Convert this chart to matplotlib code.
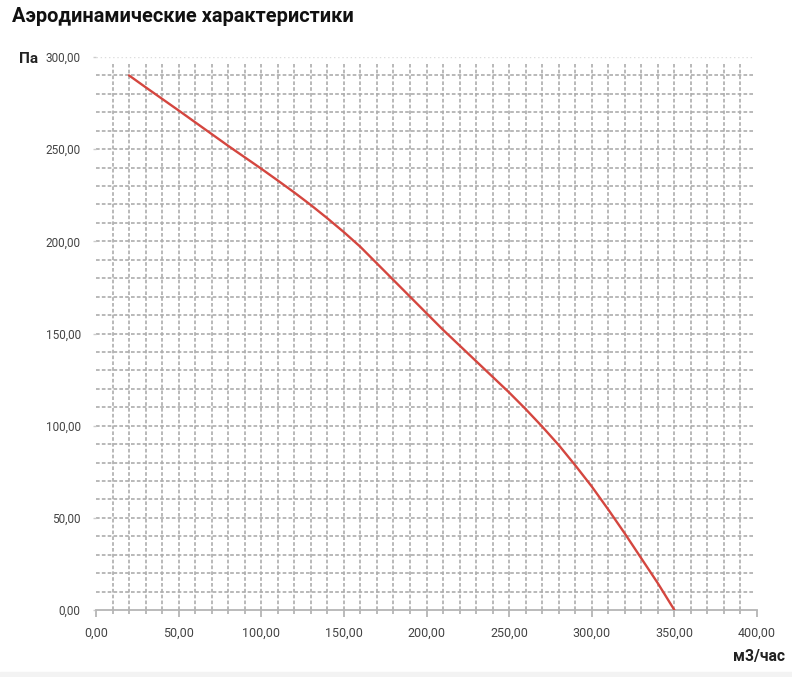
import matplotlib.pyplot as plt
import numpy as np
from matplotlib.patches import Rectangle

# flow, m3/h  vs  pressure, Pa
flow = [20, 30, 40, 50, 60, 70, 80, 90, 100, 110, 120, 130, 140, 150, 160, 170, 180,
        190, 200, 210, 220, 230, 240, 250, 260, 270, 280, 290, 300, 310, 320, 330, 340, 350]
pressure = [290, 283.6, 277.3, 271, 264.6, 258.2, 251.8, 245.6, 239.4, 233, 226.5, 219.7,
            212.5, 205, 197, 188, 179, 170, 161, 152, 143.5, 135, 126.5, 118, 109, 99.5,
            89.5, 78.5, 67, 54.5, 41.5, 28, 14.5, 0]

x_ticks = [0, 50, 100, 150, 200, 250, 300, 350, 400]
y_ticks = [0, 50, 100, 150, 200, 250, 300]

plt.rcParams['font.family'] = ['Roboto', 'DejaVu Sans']

fig = plt.figure(figsize=(7.92, 6.77), dpi=100)
ax = fig.add_axes([96 / 792, 67 / 677, 661 / 792, 553 / 677])

grid_color = '#adadad'
dash = (0, (2.2, 1.3))
# dashed grid every 10 units
ax.hlines(np.arange(10, 300, 10), 0, 398, colors=grid_color, linestyles=dash,
          linewidth=1.2, zorder=1)
ax.hlines([300], 0, 398, colors='#dddddd', linestyles=(0, (1, 2)), linewidth=1.0, zorder=1)
ax.vlines(np.arange(10, 400, 10), 0, 296, colors=grid_color, linestyles=dash,
          linewidth=1.2, zorder=1)

ax.plot(flow, pressure, color='#d4463f', linewidth=1.7, zorder=3, solid_capstyle='round',
        solid_joinstyle='round')

ax.set_xlim(0, 400)
ax.set_ylim(0, 300)
for side in ['top', 'right', 'left']:
    ax.spines[side].set_visible(False)
ax.spines['bottom'].set_color('#b5b5b5')
ax.spines['bottom'].set_linewidth(1.3)

ax.set_xticks(x_ticks)
ax.set_xticklabels([f'{v:.2f}'.replace('.', ',') for v in x_ticks])
ax.set_yticks(y_ticks)
ax.set_yticklabels([f'{v:.2f}'.replace('.', ',') for v in y_ticks])
ax.set_xticks(np.arange(10, 400, 10), minor=True)
ax.tick_params(axis='x', which='major', length=5, width=1.3, color='#b5b5b5',
               pad=7, labelsize=9, labelcolor='#444444')
ax.tick_params(axis='x', which='minor', length=3, width=1.3, color='#b5b5b5')
ax.tick_params(axis='y', which='major', length=2, width=1, color='#cccccc',
               pad=9, labelsize=8.5, labelcolor='#444444')

fig.text(12 / 792, 1 - 17 / 677, 'Аэродинамические характеристики', fontsize=14.4,
         fontweight='bold', color='#111111', va='center', ha='left')
fig.text(19 / 792, 1 - 59 / 677, 'Па', fontsize=11, fontweight='bold',
         color='#222222', va='center', ha='left')
fig.text(785 / 792, 1 - 657 / 677, 'м3/час', fontsize=11.3, fontweight='bold',
         color='#222222', va='center', ha='right')

# light band at the bottom edge
fig.patches.append(Rectangle((0, 0), 1, 5 / 677, transform=fig.transFigure,
                             color='#f3f3f3', zorder=0))

fig.savefig('out.png', dpi=100)
